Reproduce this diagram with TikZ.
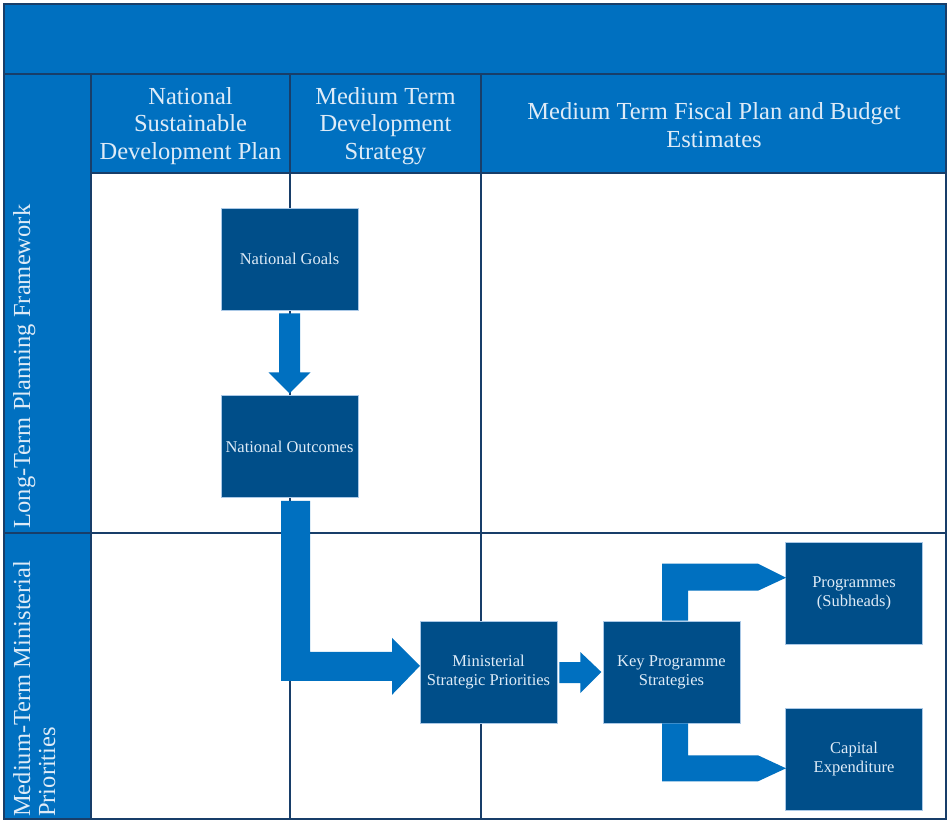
\documentclass[tikz,border=0pt]{standalone}
\usepackage{fontspec}
\setmainfont{Liberation Serif}
\usetikzlibrary{calc}
\definecolor{hdrblue}{RGB}{0,112,192}
\definecolor{gridnavy}{RGB}{24,62,105}
\definecolor{boxblue}{RGB}{0,78,137}
\definecolor{boxedge}{RGB}{170,200,230}
\definecolor{lighttxt}{RGB}{222,235,247}
\tikzset{
  gridline/.style={draw=gridnavy, line width=1.5pt},
  hdrcell/.style={fill=hdrblue, draw=gridnavy, line width=1.5pt},
  hdrtext/.style={text=lighttxt, align=center, font=\fontsize{24.5}{27.5}\selectfont, inner sep=0pt},
  lanetext/.style={text=lighttxt, rotate=90, font=\fontsize{24.5}{25}\selectfont, inner sep=0pt},
  stepbox/.style={fill=boxblue, draw=boxedge, line width=0.6pt, minimum width=137pt, minimum height=102pt,
    text=lighttxt, align=center, font=\fontsize{16.5}{19}\selectfont, inner sep=2pt},
  flowarrow/.style={fill=hdrblue, draw=none}
}
\begin{document}
\begin{tikzpicture}[x=1pt,y=-1pt]
\useasboundingbox (0,0) rectangle (949,821);
% white background
\fill[white] (0,0) rectangle (949,821);
% header band
\path[hdrcell] (4,4) rectangle (946,74);
% column header row
\path[hdrcell] (91,74) rectangle (290,173);
\path[hdrcell] (290,74) rectangle (481,173);
\path[hdrcell] (481,74) rectangle (946,173);
% left lane column
\path[hdrcell] (4,74) rectangle (91,533);
\path[hdrcell] (4,533) rectangle (91,819);
% grid lines
\draw[gridline] (91,173) -- (91,819);
\draw[gridline] (290,173) -- (290,819);
\draw[gridline] (481,173) -- (481,819);
\draw[gridline] (91,533) -- (946,533);
\draw[gridline] (4,4) rectangle (946,819);

% header texts
\node[hdrtext] (h1) at (190.5,126) {National\\Sustainable\\Development Plan};
\node[hdrtext] (h2) at (385.5,126) {Medium Term\\Development\\Strategy};
\node[hdrtext] (h3) at (714,125) {Medium Term Fiscal Plan and Budget\\Estimates};

% lane texts
\node[lanetext, anchor=base] (l1) at (30,366.5) {Long-Term Planning Framework};
\node[lanetext, anchor=base west] (l2a) at (30,817) {Medium-Term Ministerial};
\node[lanetext, anchor=base west] (l2b) at (55,817) {Priorities};

% boxes
\node[stepbox] (ng) at (289.5,259) {\raisebox{-1.5pt}{National Goals}};
\node[stepbox] (no) at (289.5,446.5) {\raisebox{-1.5pt}{National Outcomes}};
\node[stepbox] (msp) at (488.5,672) {Ministerial\\Strategic Priorities};
\node[stepbox] (kps) at (671.5,672) {Key Programme\\Strategies};
\node[stepbox] (prog) at (854,593) {Programmes\\(Subheads)};
\node[stepbox] (cap) at (854,759) {Capital\\Expenditure};

% arrows
\begin{scope}[shift={(ng.south)}]
\path[flowarrow] (-10.5,3) -- (10.5,3) -- (10.5,62) -- (21,62) -- (0,83) -- (-21,62) -- (-10.5,62) -- cycle;
\end{scope}
\begin{scope}[shift={(no.south)}]
\path[flowarrow] (-8.5,3) -- (20.5,3) -- (20.5,154) -- (102.5,154) -- (102.5,140) -- (130.5,168)
  -- (102.5,197) -- (102.5,183) -- (-8.5,183) -- cycle;
\end{scope}
\begin{scope}[shift={(msp.east)}]
\path[flowarrow] (2,-10) -- (23,-10) -- (23,-20) -- (44,0) -- (23,21) -- (23,11) -- (2,11) -- cycle;
\end{scope}
\begin{scope}[shift={(kps.north)}]
\path[flowarrow] (-9.5,0) -- (-9.5,-57) -- (86.5,-57) -- (114.5,-43) -- (86.5,-30) -- (16.5,-30) -- (16.5,0) -- cycle;
\end{scope}
\begin{scope}[shift={(kps.south)}]
\path[flowarrow] (-9.5,0) -- (-9.5,58) -- (86.5,58) -- (114.5,45) -- (86.5,32) -- (16.5,32) -- (16.5,0) -- cycle;
\end{scope}
\end{tikzpicture}
\end{document}
